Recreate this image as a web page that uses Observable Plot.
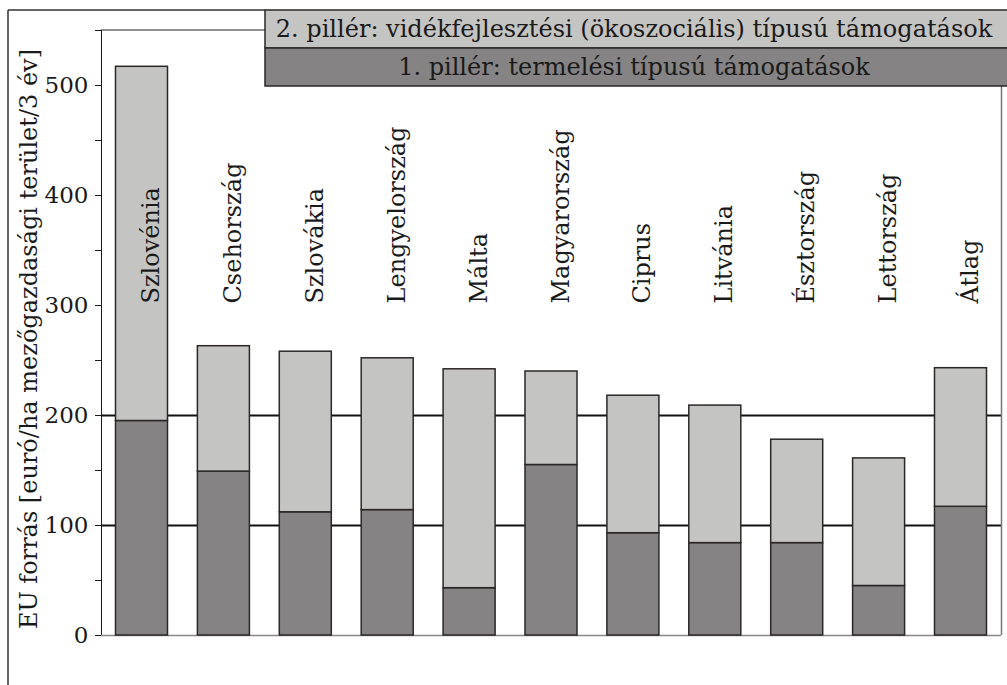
<!DOCTYPE html>
<html>
<head>
<meta charset="utf-8">
<script src="https://cdn.jsdelivr.net/npm/d3@7"></script>
<script src="https://cdn.jsdelivr.net/npm/@observablehq/plot@0.6"></script>
<style>
  html, body { margin: 0; padding: 0; background: #fff; }
  #chart { width: 1007px; height: 685px; overflow: hidden; }
  #chart svg, #chart svg text { font-family: "DejaVu Serif", "Liberation Serif", serif !important; }
</style>
</head>
<body>
<div id="chart"></div>
<script>
const categories = ["Szlovénia","Csehország","Szlovákia","Lengyelország","Málta","Magyarország","Ciprus","Litvánia","Észtország","Lettország","Átlag"];
const pillar1 = [195,149,112,114,43,155,93,84,84,45,117];
const totals  = [517,263,258,252,242,240,218,209,178,161,243];
const pillar2 = totals.map((t,i) => t - pillar1[i]);
const seriesNames = ["1. pillér: termelési típusú támogatások", "2. pillér: vidékfejlesztési (ökoszociális) típusú támogatások"];
const yTicks = [0,50,100,150,200,250,300,350,400,450,500,550];
const gridValues = [100,200];
const yLabel = "EU forrás [euró/ha mezőgazdasági terület/3 év]";

const data = categories.flatMap((c,i) => [
  {cat: c, series: seriesNames[0], value: pillar1[i]},
  {cat: c, series: seriesNames[1], value: pillar2[i]}
]);

const FONT = "'DejaVu Serif', 'Liberation Serif', serif";
const chart = Plot.plot({
  width: 1007,
  height: 685,
  marginLeft: 101,
  marginRight: 6,
  marginTop: 30,
  marginBottom: 50,
  style: {fontFamily: FONT, fontSize: "24px", background: "#fff", color: "#1a1a1a"},
  x: {domain: categories, paddingInner: 0.365, paddingOuter: 0.177, round: false, axis: null},
  y: {domain: [0,550], ticks: yTicks, tickSize: 6, tickPadding: 7, line: true,
      tickFormat: d => d % 100 === 0 ? String(d) : "", label: null},
  color: {domain: seriesNames, range: ["#858383", "#c4c4c3"]},
  marks: [
    Plot.ruleY(gridValues, {stroke: "#111", strokeWidth: 2}),
    Plot.ruleY([0], {stroke: "#888", strokeWidth: 1.5}),
    Plot.barY(data, {x: "cat", y: "value", fill: "series", stroke: "#2b2727", strokeWidth: 1.5}),
    Plot.text(categories, {x: d => d, frameAnchor: "top", dy: 273, rotate: -90, textAnchor: "start",
      fontSize: 24, fill: "#1a1a1a"}),
    Plot.text([yLabel], {frameAnchor: "left", dx: -72, dy: 6, rotate: -90, textAnchor: "middle",
      fontSize: 24, fill: "#1a1a1a"})
  ]
});
document.getElementById("chart").appendChild(chart);

d3.select(chart).selectAll("g[aria-label='y-axis'] text, g[aria-label='y-axis tick label'] text").style("font-size", "23px");

const svg = d3.select(chart);
const deco = svg.append("g");
deco.append("line").attr("x1", 8).attr("x2", 8).attr("y1", 10).attr("y2", 685).attr("stroke", "#333").attr("stroke-width", 1.5);
deco.append("line").attr("x1", 8).attr("x2", 265).attr("y1", 10).attr("y2", 10).attr("stroke", "#333").attr("stroke-width", 1.5);
deco.append("line").attr("x1", 101).attr("x2", 265).attr("y1", 30).attr("y2", 30).attr("stroke", "#222").attr("stroke-width", 1.2);
deco.append("line").attr("x1", 1001.5).attr("x2", 1001.5).attr("y1", 86).attr("y2", 635).attr("stroke", "#777").attr("stroke-width", 1.5);

const legendRows = [
  {name: seriesNames[1], fill: "#c4c4c3", y: 10},
  {name: seriesNames[0], fill: "#858383", y: 48}
];
legendRows.forEach(r => {
  deco.append("rect").attr("x", 265).attr("y", r.y).attr("width", 760).attr("height", 38)
    .attr("fill", r.fill).attr("stroke", "#2b2727").attr("stroke-width", 1.5);
  deco.append("text").attr("x", 634).attr("y", r.y + 19).attr("dy", "0.35em")
    .attr("text-anchor", "middle").style("font-family", FONT).attr("font-size", 24)
    .attr("fill", "#1a1a1a").text(r.name);
});
</script>
</body>
</html>
